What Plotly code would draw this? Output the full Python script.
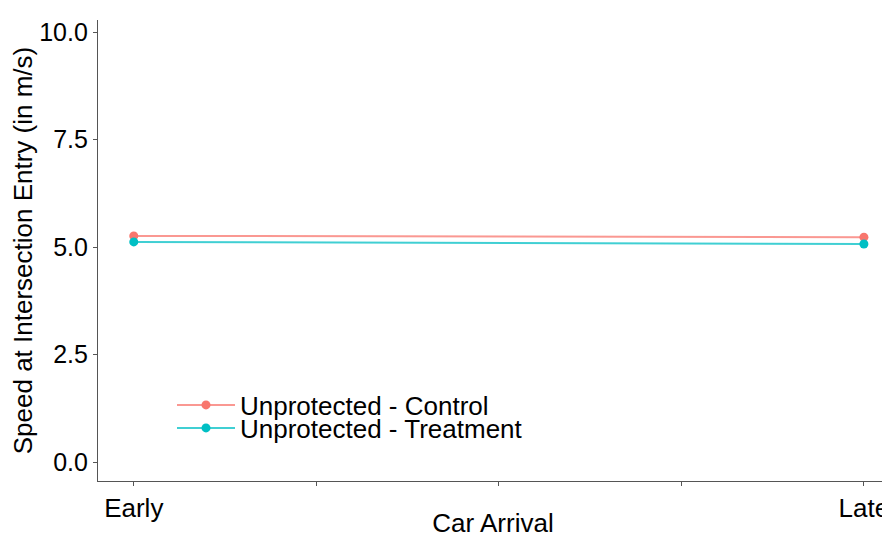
import plotly.graph_objects as go

categories = ["Early", "Late"]
x_pos = [0, 1]
control = [5.26, 5.23]
treatment = [5.12, 5.07]
control_err = [0.05, 0.05]
treatment_err = [0.05, 0.05]
series_names = ["Unprotected - Control", "Unprotected - Treatment"]
y_ticks = [0.0, 2.5, 5.0, 7.5, 10.0]

colors = ["#F8766D", "#00BFC4"]
line_colors = ["rgba(248,118,109,0.75)", "rgba(0,191,196,0.75)"]

# the page body has an 8px margin, so the figure is offset by 8px
W, H = 882, 530
L, R, T, B = 90, 2, 12, 57
plot_h = H - T - B

fig = go.Figure()
for name, vals, err, col, lcol, lg in [
        (series_names[0], control, control_err, colors[0], line_colors[0], "legend"),
        (series_names[1], treatment, treatment_err, colors[1], line_colors[1], "legend2")]:
    fig.add_trace(go.Scatter(
        x=x_pos, y=vals, name=name, mode="lines+markers",
        line=dict(color=lcol, width=2),
        marker=dict(color=col, size=9),
        error_y=dict(type="data", array=err, color=lcol, thickness=1.5, width=0),
        legend=lg,
    ))

leg_common = dict(xanchor="left", yanchor="middle", bgcolor="rgba(0,0,0,0)",
                  font=dict(size=26), itemwidth=58)
leg_x = (172 - 8 - L) / (W - L - R)
fig.update_layout(
    width=W, height=H,
    margin=dict(l=L, r=R, t=T, b=B, autoexpand=False),
    paper_bgcolor="white", plot_bgcolor="white",
    font=dict(family="Liberation Sans, Arial, sans-serif", size=26, color="black"),
    showlegend=True,
    legend=dict(x=leg_x, y=(473 - 397) / plot_h, **leg_common),
    legend2=dict(x=leg_x, y=(473 - 420) / plot_h, **leg_common),
)
fig.update_xaxes(
    range=[-0.049, 1.033], tickvals=[0, 0.25, 0.5, 0.75, 1],
    ticktext=[categories[0], "", "", "", categories[1]],
    showline=True, linecolor="#555555", linewidth=1.2,
    ticks="outside", ticklen=4, tickcolor="#555555",
    showgrid=False, zeroline=False, automargin=False,
    tickfont=dict(size=26),
    title=dict(text="Car Arrival", standoff=0, font=dict(size=26)),
)
fig.update_yaxes(
    range=[-0.44, 10.28], tickvals=y_ticks,
    ticktext=[f"{v:.1f}" for v in y_ticks],
    showline=True, linecolor="#555555", linewidth=1.2,
    ticks="outside", ticklen=4, tickcolor="#555555",
    showgrid=False, zeroline=False, automargin=False,
    tickfont=dict(size=25),
    title=dict(text="Speed at Intersection Entry (in m/s)", standoff=2, font=dict(size=26)),
)
fig.write_html("out.html")
